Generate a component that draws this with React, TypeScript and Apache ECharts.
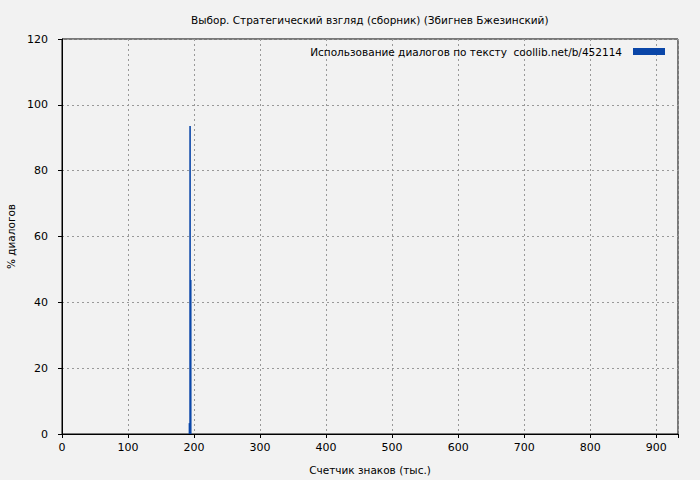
import React, { useEffect, useRef } from "react";
import * as echarts from "echarts";

const titleText = "Выбор. Стратегический взгляд (сборник) (Збигнев Бжезинский)";
const seriesName = "Использование диалогов по тексту  coollib.net/b/452114";
const xName = "Счетчик знаков (тыс.)";
const yName = "% диалогов";
const xValues = [193, 194, 195];
const yValues = [3.3, 93.6, 46.8];

const FONT = "DejaVu Sans";

export default function App() {
  const ref = useRef<HTMLDivElement>(null);
  useEffect(() => {
    const chart = echarts.init(ref.current!, null, { renderer: "svg" });
    chart.setOption({
      animation: false,
      backgroundColor: "#f2f2f2",
      textStyle: { fontFamily: FONT },
      title: {
        text: titleText,
        left: 186,
        top: 9,
        textStyle: { fontSize: 10.5, fontWeight: "normal", color: "#000", fontFamily: FONT },
      },
      legend: {
        right: 30,
        top: 41,
        align: "right",
        itemWidth: 32,
        itemHeight: 7,
        itemGap: 0,
        icon: "rect",
        textStyle: { fontSize: 10.5, color: "#000", fontFamily: FONT, padding: [0, 6, 0, 0] },
        data: [seriesName],
      },
      grid: {
        left: 62,
        right: 22,
        top: 39,
        bottom: 46,
        show: true,
        outerBoundsMode: "none",
        containLabel: false,
        borderColor: "#000",
        borderWidth: 1,
        backgroundColor: "transparent",
      },
      xAxis: {
        type: "value",
        min: 0,
        max: 933,
        interval: 100,
        name: xName,
        nameLocation: "middle",
        nameGap: 30,
        nameTextStyle: { fontSize: 10.5, color: "#000", fontFamily: FONT },
        axisLine: { show: true, lineStyle: { color: "#000" } },
        axisTick: { show: true, length: 4, lineStyle: { color: "#000" } },
        axisLabel: {
          fontSize: 11,
          color: "#000",
          margin: 8,
          fontFamily: FONT,
          formatter: (v: number) => (v % 100 === 0 ? String(v) : ""),
        },
        splitLine: { show: true, lineStyle: { color: "#999", type: [2, 3], width: 1 } },
      },
      yAxis: {
        type: "value",
        min: 0,
        max: 120,
        interval: 20,
        name: yName,
        nameLocation: "middle",
        nameGap: 46,
        nameRotate: 90,
        nameTextStyle: { fontSize: 10.5, color: "#000", fontFamily: FONT },
        axisLine: { show: true, lineStyle: { color: "#000" } },
        axisTick: { show: true, length: 4, lineStyle: { color: "#000" } },
        axisLabel: { fontSize: 11, color: "#000", margin: 14, fontFamily: FONT },
        splitLine: { show: true, lineStyle: { color: "#999", type: [2, 3], width: 1 } },
      },
      series: [
        {
          name: seriesName,
          type: "bar",
          barWidth: 1.6,
          itemStyle: { color: "#0a46a8" },
          data: xValues.map((x, i) => [x, yValues[i]]),
        },
      ],
    });
    return () => chart.dispose();
  }, []);
  return <div ref={ref} style={{ width: 700, height: 480, position: "absolute", left: 0, top: 0 }} />;
}
